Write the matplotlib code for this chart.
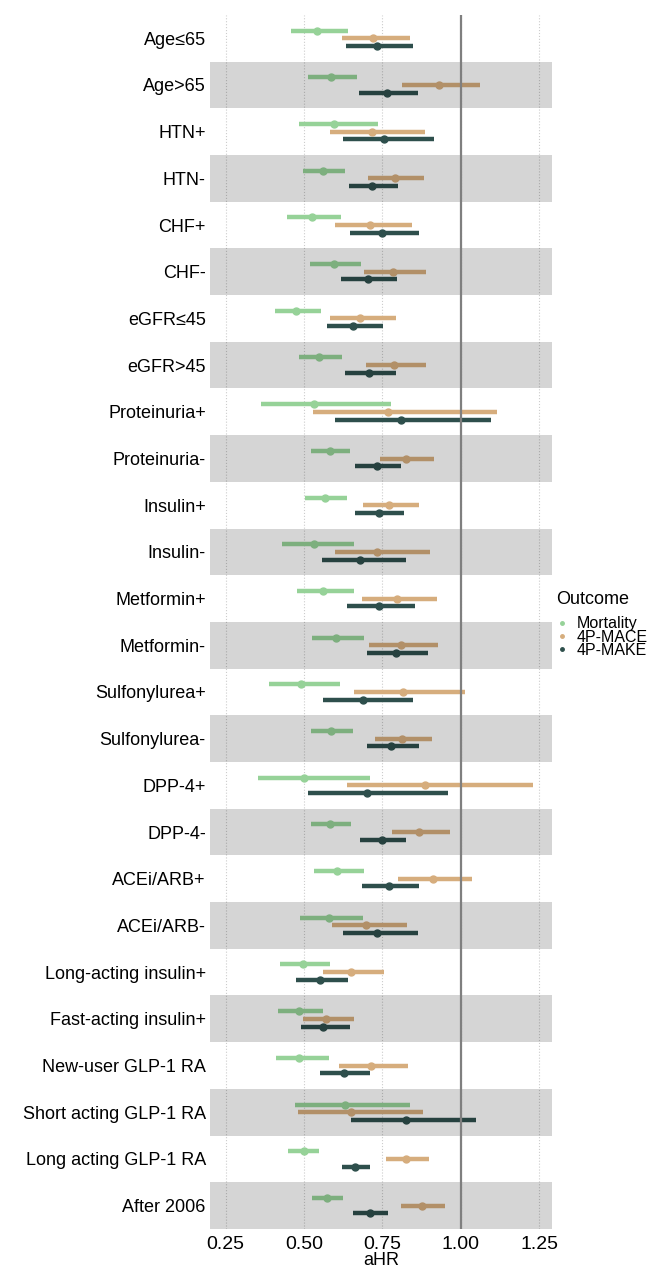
import matplotlib
matplotlib.use("Agg")
import matplotlib.pyplot as plt
from matplotlib.lines import Line2D
import numpy as np

plt.rcParams['font.family'] = ['Liberation Sans', 'DejaVu Sans']

subgroups = ["Age≤65", "Age>65", "HTN+", "HTN-", "CHF+", "CHF-", "eGFR≤45", "eGFR>45",
             "Proteinuria+", "Proteinuria-", "Insulin+", "Insulin-", "Metformin+", "Metformin-",
             "Sulfonylurea+", "Sulfonylurea-", "DPP-4+", "DPP-4-", "ACEi/ARB+", "ACEi/ARB-",
             "Long-acting insulin+", "Fast-acting insulin+", "New-user GLP-1 RA",
             "Short acting GLP-1 RA", "Long acting GLP-1 RA", "After 2006"]

# Mortality
mort_hr = [0.543, 0.585, 0.596, 0.561, 0.527, 0.595, 0.473, 0.548, 0.532, 0.582, 0.567, 0.532, 0.561,
           0.601, 0.490, 0.585, 0.501, 0.583, 0.606, 0.579, 0.496, 0.484, 0.485, 0.631, 0.499, 0.572]
mort_lo = [0.459, 0.514, 0.485, 0.497, 0.447, 0.519, 0.407, 0.484, 0.364, 0.522, 0.504, 0.429, 0.479,
           0.527, 0.389, 0.521, 0.352, 0.522, 0.532, 0.487, 0.423, 0.418, 0.411, 0.470, 0.450, 0.527]
mort_hi = [0.642, 0.669, 0.735, 0.632, 0.617, 0.682, 0.553, 0.622, 0.777, 0.648, 0.637, 0.659, 0.659,
           0.691, 0.615, 0.656, 0.710, 0.649, 0.691, 0.687, 0.582, 0.561, 0.579, 0.839, 0.549, 0.624]

# 4P-MACE
mace_hr = [0.720, 0.931, 0.717, 0.789, 0.711, 0.785, 0.680, 0.786, 0.768, 0.826, 0.771, 0.734, 0.796,
           0.810, 0.817, 0.812, 0.886, 0.868, 0.911, 0.698, 0.650, 0.571, 0.713, 0.650, 0.826, 0.876]
mace_lo = [0.620, 0.814, 0.582, 0.704, 0.600, 0.691, 0.582, 0.698, 0.528, 0.744, 0.687, 0.598, 0.686,
           0.707, 0.659, 0.727, 0.637, 0.782, 0.799, 0.588, 0.560, 0.497, 0.611, 0.480, 0.761, 0.810]
mace_hi = [0.838, 1.063, 0.886, 0.884, 0.845, 0.890, 0.794, 0.888, 1.116, 0.914, 0.866, 0.901, 0.924,
           0.929, 1.013, 0.907, 1.230, 0.965, 1.035, 0.828, 0.754, 0.659, 0.831, 0.879, 0.900, 0.950]

# 4P-MAKE
make_hr = [0.732, 0.764, 0.755, 0.716, 0.748, 0.703, 0.656, 0.709, 0.811, 0.734, 0.738, 0.680, 0.738,
           0.793, 0.688, 0.779, 0.702, 0.748, 0.770, 0.734, 0.551, 0.562, 0.628, 0.826, 0.663, 0.711]
make_lo = [0.635, 0.674, 0.624, 0.643, 0.647, 0.619, 0.574, 0.632, 0.600, 0.664, 0.663, 0.559, 0.637,
           0.701, 0.561, 0.701, 0.514, 0.678, 0.686, 0.623, 0.476, 0.490, 0.550, 0.650, 0.620, 0.655]
make_hi = [0.849, 0.865, 0.914, 0.799, 0.866, 0.796, 0.751, 0.795, 1.096, 0.811, 0.820, 0.825, 0.853,
           0.897, 0.847, 0.866, 0.958, 0.824, 0.866, 0.864, 0.639, 0.646, 0.710, 1.050, 0.710, 0.768]

outcomes = ["Mortality", "4P-MACE", "4P-MAKE"]
colors = ["#96D298", "#D6AD7D", "#2E4F4C"]
series = [(mort_hr, mort_lo, mort_hi), (mace_hr, mace_lo, mace_hi), (make_hr, make_lo, make_hi)]
offsets = [-0.165, 0.0, 0.165]

fig = plt.figure(figsize=(6.52, 12.68), dpi=100)
ax = fig.add_axes([0.322, 0.0308, 0.524, 0.9574])

n = len(subgroups)
ypos = np.arange(n)

for (hr, lo, hi), col, off in zip(series, colors, offsets):
    y = ypos + off
    ax.hlines(y, lo, hi, color=col, lw=3.2, zorder=3)
    ax.plot(hr, y, 'o', color=col, ms=5, zorder=4)

# shaded bands on alternating rows (drawn over the bars, like a translucent overlay)
for i in range(n):
    if i % 2 == 1:
        ax.axhspan(i - 0.5, i + 0.5, color='black', alpha=0.165, lw=0, zorder=5)

ax.axvline(1.0, color='#7f7f7f', lw=1.6, zorder=6)

ax.set_xlim(0.2, 1.29)
ax.set_ylim(n - 0.5, -0.5)
ax.set_xticks([0.25, 0.50, 0.75, 1.00, 1.25])
ax.set_xticklabels(["0.25", "0.50", "0.75", "1.00", "1.25"])
ax.set_yticks(ypos)
ax.set_yticklabels(subgroups)
ax.tick_params(axis='y', length=0, labelsize=13, colors='black', pad=3)
ax.tick_params(axis='x', length=0, labelsize=14, colors='black', pad=5)
ax.grid(axis='x', color='#cccccc', linestyle=':', lw=0.8, zorder=1)
ax.set_axisbelow(True)
for s in ax.spines.values():
    s.set_visible(False)
ax.set_xlabel("aHR", fontsize=13, labelpad=-1)

handles = [Line2D([], [], marker='o', ls='', color=c, ms=2.5) for c in colors]
leg = fig.legend(handles, outcomes, title="Outcome", loc='upper left',
                 bbox_to_anchor=(0.843, 0.539), frameon=False, fontsize=11.5,
                 title_fontsize=13, handlelength=0.7, handletextpad=0.6,
                 labelspacing=-0.1, borderaxespad=0)
leg._legend_box.align = "left"
leg._legend_box.sep = 6

fig.savefig("out.png", dpi=100)
